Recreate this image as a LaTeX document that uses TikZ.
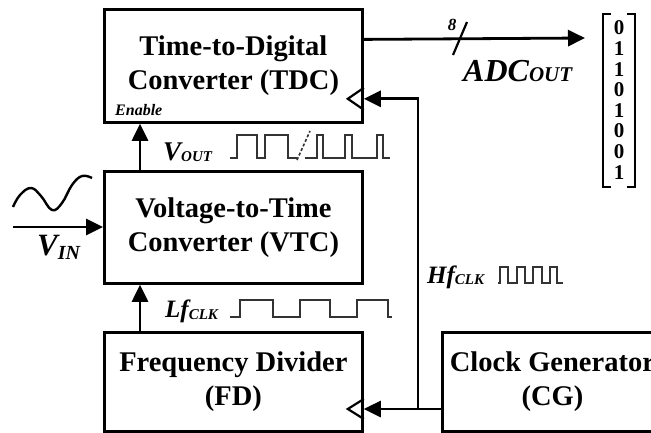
\documentclass[tikz,border=0pt]{standalone}
\usepackage{fontspec}
\setmainfont{Liberation Serif}
\usetikzlibrary{arrows.meta}
\newcommand\mksub[5]{{\fontsize{#1}{#1}\selectfont #3}\raisebox{-#5}{\fontsize{#2}{#2}\selectfont #4}}
\begin{document}
\begin{tikzpicture}[x=1pt,y=-1pt,
  blk/.style={draw, line width=2.8pt, inner sep=0pt, align=center,
    font=\fontsize{28.5}{34}\selectfont\bfseries},
  arr/.style={line width=2.8pt, -{Triangle[length=17pt,width=16pt]}},
  wire/.style={line width=2.8pt},
  clk/.style={line width=2.2pt},
  wave/.style={line width=1.6pt, black!80},
  lbl/.style={inner sep=0pt, font=\bfseries\itshape},
]
\fill[white] (0,0) rectangle (651,432);
\useasboundingbox (0,0) rectangle (651,432);

% blocks
\node[blk, anchor=north west, minimum width=258pt, minimum height=113pt] (tdc) at (103,8) {Time-to-Digital\\Converter (TDC)};
\node[blk, anchor=north west, minimum width=258pt, minimum height=112pt] (vtc) at (103,170) {Voltage-to-Time\\Converter (VTC)};
\node[blk, anchor=north west, minimum width=258pt, minimum height=99pt] (fd) at (103,331) {Frequency Divider\\(FD)};
\node[blk, anchor=north west, minimum width=220pt, minimum height=99pt] (cg) at (441,331) {Clock Generator\\(CG)};

% vertical arrows
\draw[arr] ([xshift=37pt]vtc.north west) -- ([xshift=37pt]tdc.south west);
\draw[arr] ([xshift=37pt]fd.north west) -- ([xshift=37pt]vtc.south west);

% clock inputs
\coordinate (tdcclk) at ([yshift=25pt]tdc.south east);
\coordinate (j) at (418,409);
\coordinate (fdclk) at (j -| fd.east);
\draw[clk] ([yshift=11pt]tdcclk) -- ++(-16pt,-11pt) -- ++(16pt,-11pt);
\draw[clk] ([yshift=10pt]fdclk) -- ++(-16pt,-10pt) -- ++(16pt,-10pt);
\draw[wire] (cg.west |- j) -- (j);
\draw[arr] (j) -- (fdclk);
\draw[arr] (j) |- (tdcclk);

% output
\coordinate (adcend) at (585,38);
\draw[arr] ([yshift=26.5pt]tdc.east) -- (adcend);
\draw[clk] (453,55) -- (467,22);
\node[lbl, font=\fontsize{17}{17}\selectfont\bfseries\itshape, anchor=base] (bw) at (452,30) {8};
\node[lbl, anchor=base west] (adc) at (463,81) {\mksub{32}{21}{ADC}{OUT}{0pt}};

% output vector
\node[inner sep=0pt, align=center, font=\fontsize{21}{20.6}\selectfont\bfseries] (vec) at (619,100) {0\\1\\1\\0\\1\\0\\0\\1};
\draw[clk] (611,14) -- (603,14) -- (603,187) -- (611,187);
\draw[clk] (627,14) -- (635,14) -- (635,187) -- (627,187);

% input
\coordinate (vinstart) at (13,227);
\draw[arr] (vinstart) -- (vinstart -| vtc.west);
\draw[line width=2.4pt] plot[smooth, tension=0.7] coordinates {(13,207) (20,195) (31,188) (41,196) (52,210) (62,203) (72,185) (82,176) (92,178)};
\node[lbl, anchor=base west] (vin) at (37,255) {\mksub{31}{20}{V}{IN}{4pt}};

% labels
\node[lbl, anchor=base west] (en) at (115,115) {\fontsize{16}{16}\selectfont Enable};
\node[lbl, anchor=base west] (vout) at (163,160) {\mksub{27}{15}{V}{OUT}{1pt}};
\node[lbl, anchor=base west] (lf) at (165,317) {\mksub{25}{15}{Lf}{CLK}{2pt}};
\node[lbl, anchor=base west] (hf) at (427,283) {\mksub{25}{15}{Hf}{CLK}{1pt}};

% waveforms
\draw[wave] (230,158) -- (237,158) -- (237,135) -- (257,135) -- (257,158) -- (265,158) -- (265,135) -- (288,135) -- (288,158) -- (297,158);
\draw[wave, dashed, dash pattern=on 3pt off 2pt] (297,160) -- (310,131);
\draw[wave] (305,158) -- (317,158) -- (317,135) -- (323,135) -- (323,158) -- (345,158) -- (345,135) -- (352,135) -- (352,158) -- (377,158) -- (377,135) -- (383,135) -- (383,158) -- (390,158);
\draw[wave] (230,317) -- (240,317) -- (240,300) -- (273,300) -- (273,317) -- (300,317) -- (300,300) -- (330,300) -- (330,317) -- (357,317) -- (357,300) -- (388,300) -- (388,317) -- (392,317);
\draw[wave] (498,283) -- (500,283) -- (500,267) -- (508,267) -- (508,283) -- (517,283) -- (517,267) -- (525,267) -- (525,283) -- (533,283) -- (533,267) -- (542,267) -- (542,283) -- (550,283) -- (550,267) -- (557,267) -- (557,283) -- (563,283);
\end{tikzpicture}
\end{document}
